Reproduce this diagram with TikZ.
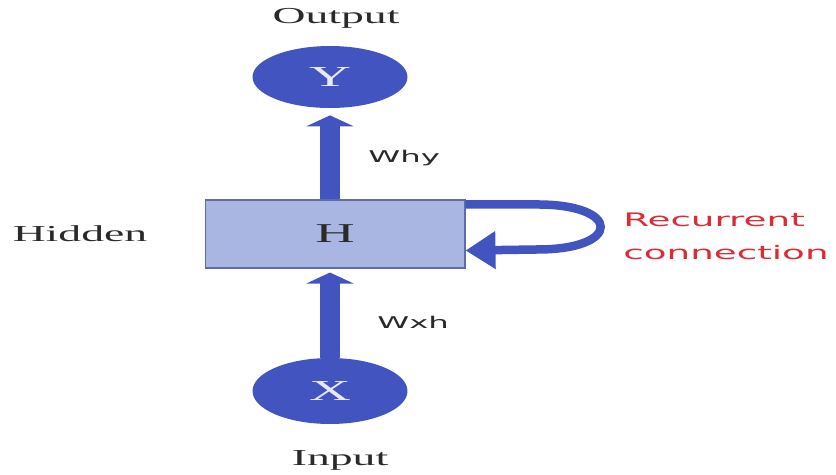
\documentclass[tikz,border=0pt]{standalone}
\usepackage{graphicx}
\usepackage{fontspec}
\setmainfont{Liberation Serif}
\newfontfamily\labelfont{DejaVu Sans}
\usepackage{tikz}
\usetikzlibrary{arrows.meta, positioning, shapes.geometric}
\definecolor{rnnblue}{RGB}{66, 84, 192}
\definecolor{hiddenfill}{RGB}{170, 182, 226}
\definecolor{hiddenline}{RGB}{96, 108, 168}
\definecolor{lettergray}{RGB}{232, 234, 246}
\definecolor{textgray}{RGB}{42, 42, 42}
\definecolor{recurred}{RGB}{218, 44, 52}
\newcommand{\widen}[1]{\scalebox{2.0}[1]{#1}}

\begin{document}
\begin{tikzpicture}[
    x=0.02cm, y=-0.02cm,
    unit/.style={ellipse, fill=rnnblue, text=lettergray, minimum width=3.1cm, inner sep=0pt,
        font=\fontsize{16.5}{18}\selectfont},
    hiddenbox/.style={draw=hiddenline, fill=hiddenfill, line width=0.6pt, minimum width=5.2cm,
        minimum height=1.36cm, inner sep=0pt, text=textgray, font=\fontsize{15.5}{17}\selectfont},
    caption/.style={text=textgray, font=\fontsize{13}{15}\selectfont, inner sep=0pt, anchor=base},
    weight/.style={text=textgray, font=\labelfont\fontsize{9.2}{11}\selectfont, inner sep=0pt, anchor=west},
    vflow/.style={rnnblue, line width=0.4cm, -{Triangle[width=0.94cm, length=0.22cm]}},
    recur/.style={rnnblue, line width=0.17cm, -{Triangle[width=0.72cm, length=0.6cm]}}
]
    \useasboundingbox (0,0) rectangle (836,474);

    % Units
    \node[unit, minimum height=1.24cm] (Y) at (330,77) {\widen{Y}};
    \node[hiddenbox] (H) at (335,234) {\widen{H}};
    \node[unit, minimum height=1.32cm] (X) at (330,391) {\widen{X}};

    % Arrows
    \draw[vflow, shorten >=0.14cm] (Y.south |- H.north) -- (Y.south);
    \draw[vflow, shorten >=0.08cm] (X.north) -- (X.north |- H.south);
    \draw[recur] ([yshift=-0.1cm]H.north east) -- ++(72,0)
        to[out=0, in=0, looseness=4.8] ++(0,45) -- ([yshift=0.36cm]H.south east);

    % Labels
    \node[caption] (output) at (336,23) {\widen{Output}};
    \node[caption] (hidden) at (80,241) {\widen{Hidden}};
    \node[caption] (input) at (340,465) {\widen{Input}};
    \node[weight] (why) at (368,158) {\widen{Why}};
    \node[weight] (wxh) at (377,322) {\widen{Wxh}};
    \node[text=recurred, font=\labelfont\fontsize{10.6}{18.7}\selectfont, align=left, anchor=west,
        inner sep=0pt] (recurrent) at (623,236) {\widen{Recurrent}\\\widen{connection}};
\end{tikzpicture}
\end{document}
